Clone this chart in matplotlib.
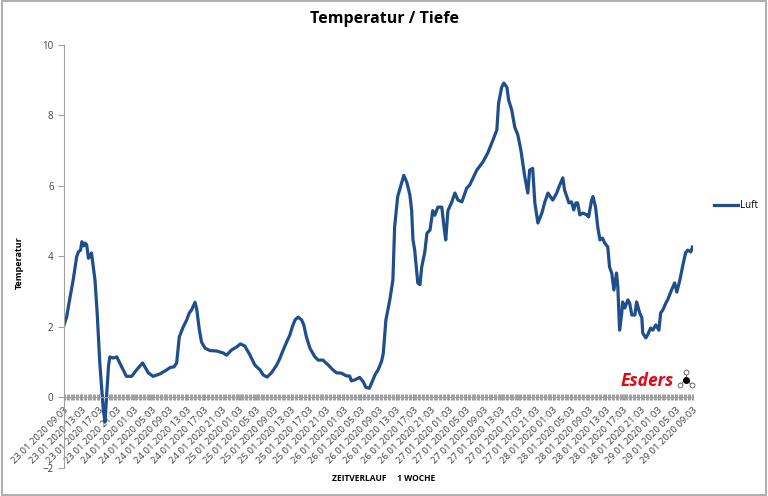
import numpy as np
import matplotlib.pyplot as plt
from matplotlib.ticker import MultipleLocator
from matplotlib.patches import Rectangle

# hours after 23.01.2020 09:03, temperature
hours = [0.0, 0.6, 1.4, 2.1, 2.9, 3.3, 3.8, 4.1, 4.5, 4.8, 5.2, 5.6, 5.9, 6.3, 7.1, 7.6,
         8.2, 9.0, 9.4, 9.8, 10.2, 10.5, 11.2, 12.1, 13.2, 14.3, 15.5, 16.6, 18.0, 19.3,
         20.4, 22.0, 23.5, 24.3, 25.2, 25.8, 26.4, 27.3, 28.1, 28.7, 29.2, 30.0, 30.4,
         31.0, 31.5, 32.3, 33.4, 34.9, 36.5, 37.2, 38.4, 39.5, 40.4, 41.4, 42.6, 43.7,
         44.9, 45.6, 46.5, 47.5, 48.7, 49.4, 50.2, 51.0, 51.7, 52.3, 52.9, 53.6, 54.4,
         54.9, 55.5, 56.3, 57.4, 58.2, 59.3, 60.5, 61.6, 62.4, 63.5, 64.7, 65.4, 65.8,
         66.6, 67.7, 68.5, 69.1, 69.9, 70.4, 71.2, 71.9, 72.7, 73.1, 73.7, 74.0, 74.6,
         75.3, 75.7, 76.4, 77.3, 77.8, 78.5, 79.2, 79.6, 79.9, 80.3, 81.0, 81.5, 81.9,
         82.6, 83.1, 83.8, 84.2, 84.4, 84.9, 85.6, 86.5, 87.0, 87.4, 87.9, 88.8, 89.5,
         90.2, 91.1, 92.2, 92.9, 94.5, 95.9, 97.0, 98.2, 99.1, 99.5, 100.2, 100.7, 101.4,
         101.8, 102.5, 103.2, 103.9, 104.6, 105.0, 105.5, 106.2, 106.6, 107.3, 107.8,
         108.5, 109.4, 110.1, 110.8, 111.9, 112.8, 113.5, 114.2, 114.6, 115.1, 115.6,
         116.2, 116.7, 117.2, 117.6, 118.1, 118.8, 119.7, 120.1, 120.8, 121.1, 121.7,
         122.2, 122.7, 123.3, 123.8, 124.5, 124.9, 125.4, 125.9, 126.5, 126.8, 127.2,
         127.7, 127.9, 128.4, 129.1, 129.5, 130.0, 130.7, 131.1, 131.8, 132.3, 132.5,
         133.2, 133.6, 134.3, 134.8, 135.5, 136.2, 136.6, 137.1, 137.8, 138.2, 139.1,
         139.8, 140.3, 141.0, 141.6, 142.3, 142.8, 143.5, 143.9]
luft = [2.05, 2.28, 2.85, 3.33, 3.99, 4.13, 4.18, 4.42, 4.3, 4.38, 4.33, 3.95, 4.0, 4.1, 3.33, 2.4,
        0.98, -0.35, -0.7, 0.13, 0.9, 1.15, 1.12, 1.15, 0.87, 0.6, 0.6, 0.78, 0.98, 0.7,
        0.6, 0.67, 0.78, 0.85, 0.87, 0.98, 1.72, 2.0, 2.2, 2.4, 2.48, 2.7, 2.5,
        1.91, 1.57, 1.4, 1.33, 1.32, 1.26, 1.2, 1.35, 1.43, 1.52, 1.46, 1.2, 0.92,
        0.78, 0.64, 0.58, 0.7, 0.92, 1.1, 1.35, 1.58, 1.77, 2.01, 2.2, 2.28, 2.2,
        2.06, 1.72, 1.4, 1.16, 1.06, 1.06, 0.92, 0.78, 0.7, 0.69, 0.61, 0.61, 0.47,
        0.5, 0.57, 0.45, 0.29, 0.26, 0.4, 0.64, 0.78, 1.02, 1.25, 2.2, 2.39, 2.77,
        3.33, 4.84, 5.7, 6.08, 6.3, 6.1, 5.74, 5.3, 4.47, 4.18, 3.25, 3.2, 3.7,
        4.12, 4.66, 4.75, 5.1, 5.3, 5.17, 5.4, 5.4, 4.84, 4.47, 5.3, 5.55, 5.8,
        5.6, 5.55, 5.94, 6.03, 6.45, 6.68, 6.93, 7.3, 7.59, 8.35, 8.8, 8.92, 8.8,
        8.44, 8.16, 7.67, 7.45, 7.02, 6.68, 6.26, 5.8, 6.45, 6.5, 5.52,
        4.95, 5.23, 5.55, 5.8, 5.6, 5.8, 6.03, 6.23, 5.89, 5.7, 5.52,
        5.55, 5.32, 5.52, 5.52, 5.18, 5.23, 5.18, 5.12, 5.6, 5.7, 5.4,
        4.84, 4.47, 4.52, 4.38, 4.27, 3.7, 3.53, 3.05, 3.53, 3.13, 1.91,
        2.4, 2.71, 2.54, 2.77, 2.68, 2.34, 2.34, 2.71, 2.4, 2.26, 1.83,
        1.69, 1.77, 1.97, 1.91, 2.06, 1.91, 2.4, 2.48, 2.68, 2.77, 3.05,
        3.25, 2.99, 3.33, 3.7, 4.1, 4.18, 4.13, 4.27]

tick_labels = [
    "23.01.2020 09:03", "23.01.2020 13:03", "23.01.2020 17:03", "23.01.2020 21:03",
    "24.01.2020 01:03", "24.01.2020 05:03", "24.01.2020 09:03", "24.01.2020 13:03",
    "24.01.2020 17:03", "24.01.2020 21:03", "25.01.2020 01:03", "25.01.2020 05:03",
    "25.01.2020 09:03", "25.01.2020 13:03", "25.01.2020 17:03", "25.01.2020 21:03",
    "26.01.2020 01:03", "26.01.2020 05:03", "26.01.2020 09:03", "26.01.2020 13:03",
    "26.01.2020 17:03", "26.01.2020 21:03", "27.01.2020 01:03", "27.01.2020 05:03",
    "27.01.2020 09:03", "27.01.2020 13:03", "27.01.2020 17:03", "27.01.2020 21:03",
    "28.01.2020 01:03", "28.01.2020 05:03", "28.01.2020 09:03", "28.01.2020 13:03",
    "28.01.2020 17:03", "28.01.2020 21:03", "29.01.2020 01:03", "29.01.2020 05:03",
    "29.01.2020 09:03"]
tick_hours = [4 * i for i in range(len(tick_labels))]

plt.rcParams['font.family'] = ['Open Sans', 'DejaVu Sans']

fig = plt.figure(figsize=(7.68, 4.96), dpi=100)
ax = fig.add_axes([0.0833, 0.0565, 0.8190, 0.8528])

line_col = '#1f4e8c'
ax.plot(hours, luft, color=line_col, lw=2.3, label='Luft', solid_joinstyle='round')

ax.set_xlim(0, 144)
ax.set_ylim(-2, 10)
ax.set_yticks([-2, 0, 2, 4, 6, 8, 10])
ax.tick_params(axis='y', labelsize=7, colors='#404040', length=4, color='#a0a0a0')

for s in ['top', 'right']:
    ax.spines[s].set_visible(False)
ax.spines['left'].set_color('#a0a0a0')
ax.spines['bottom'].set_position(('data', 0))
ax.spines['bottom'].set_color('#a0a0a0')

ax.set_xticks(tick_hours)
ax.set_xticklabels(tick_labels, rotation=45, ha='right', rotation_mode='anchor')
ax.xaxis.set_minor_locator(MultipleLocator(0.3))
ax.tick_params(axis='x', which='major', labelsize=6.8, colors='#404040',
               direction='inout', length=5, color='#909090', width=0.6, pad=3)
ax.tick_params(axis='x', which='minor', direction='inout', length=5,
               color='#909090', width=0.6)

fig.text(0.5, 0.962, 'Temperatur / Tiefe', ha='center', va='center',
         fontsize=11.5, fontweight='bold')
fig.text(0.025, 0.47, 'Temperatur', rotation=90, ha='center', va='center',
         fontsize=6.5, fontweight='bold')
fig.text(0.5, 0.036, 'ZEITVERLAUF     1 WOCHE', ha='center', va='center',
         fontsize=6, fontweight='bold')

ax.legend(loc='center left', bbox_to_anchor=(1.02, 0.62), frameon=False,
          fontsize=7, handlelength=2.4, handletextpad=0.2)

# Esders logo
fig.text(0.877, 0.232, 'Esders', ha='right', va='center', color='#e30613',
         fontsize=12.5, fontweight='bold', fontstyle='italic')
center = (0.893, 0.234)
for (cx, cy) in [(0.893, 0.250), (0.885, 0.224), (0.901, 0.224)]:
    fig.add_artist(plt.Line2D([center[0], cx], [center[1], cy], color='#555555',
                              lw=0.6, transform=fig.transFigure))
    fig.add_artist(plt.Line2D([cx], [cy], marker='o', markersize=3.5, color='#555555',
                              markerfacecolor='white', markeredgewidth=0.6,
                              transform=fig.transFigure))
fig.add_artist(plt.Line2D([center[0]], [center[1]], marker='o', markersize=4,
                          color='black', transform=fig.transFigure))

fig.add_artist(Rectangle((0.002, 0.002), 0.996, 0.996, fill=False, edgecolor='#b0b0b0',
                         lw=1.5, transform=fig.transFigure))

fig.savefig('out.png', dpi=100)
